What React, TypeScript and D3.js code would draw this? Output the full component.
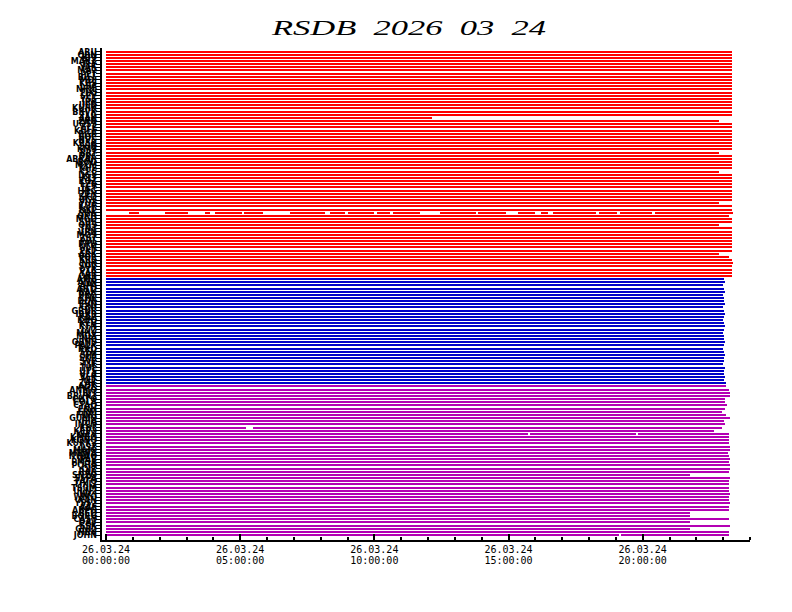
import React from 'react';
import * as d3 from 'd3';

const TITLE = 'RSDB  2026  03  24';

const RED_STATIONS = ['ARU','OBN','KIV','MAKZ','TLY','YAK','MA2','PET','BILL','MDJ','KBS','LSA','NRIL','TIXI','SEY','YSS','IRK','ULN','KURK','BRVK','TLG','AAK','ZRN','UOSS','ELL','KULE','BGR','SOC','NVS','KRSK','SSN','KMS','BRT','DBC','ABKAR','BOD','MXM','KHE','CLC','DGY','KLY','KOZ','LZR','TEY','HRG','ZEY','SKD','UGL','YUZ','KUR','NKL','SHK','OKH','MGD','SUS','ORS','TNT','VRN','MOS','ZST','PUL','PRH','NLK','EKT','ARK','VOR','KRS','NIK','SOV','PTR','YAR','OKT'];
const BLUE_STATIONS = ['AMB','ANN','APA','ARTI','BAK','BRG','CHL','DDR','EVN','GNI','GRNR','IRKR','KAZ','KDO','KEV','KTN','LVZ','MHV','MOX','NRI','OBNS','PALK','RKD','SEV','SIM','SKR','SVE','TIK','TUL','UTS','VLA','VLK','YLT','ZAK'];
const MAGENTA_STATIONS = ['ADK','ANMO','BJT','BRVK2','CHTO','COLA','CTAO','ENH','ERM','FURI','GUMO','HIA','INCN','KBL','KEV2','KIEV','KMBO','KONO','KURK2','LSZ','MAJO','MBWA','NWAO','PAB','PMSA','POHA','QIZ','RAR','SNZO','SSPA','TATO','TIXI2','TSUM','ULN2','WCI','WMQ','XAN','YSS2','AAE','ABPO','BFO','BORG','CASY','DAV','ESK','GNI2','HRV','JOHN'];

// end of recorded data for each station, hours after 00:00
const RED_ENDS = [
  23.33, 23.33, 23.33, 23.33, 23.33, 23.33, 23.33, 23.33, 23.33, 23.33,
  23.33, 23.33, 23.33, 23.33, 23.33, 23.33, 23.33, 23.33, 23.33, 23.33,
  23.33, 12.15, 22.85, 23.33, 23.33, 23.33, 23.33, 23.33, 23.33, 23.33,
  23.33, 23.33, 22.85, 23.33, 23.33, 23.33, 23.33, 23.33, 22.85, 23.33,
  23.33, 23.33, 23.33, 23.33, 23.33, 23.33, 23.33, 23.33, 22.85, 23.33,
  23.33, 23.37, 23.22, 23.33, 23.33, 22.85, 23.33, 23.33, 23.33, 23.33,
  23.33, 23.33, 23.33, 23.33, 22.85, 23.22, 23.33, 23.37, 23.33, 23.33,
  23.33, 23.33,
];
const BLUE_ENDS = [
  23.03, 23.07, 22.99, 23.03, 23.07, 22.99, 23.03, 23.03, 23.07, 22.99,
  23.03, 23.07, 23.03, 22.99, 23.03, 23.07, 23.03, 22.99, 23.03, 23.03,
  23.07, 23.03, 22.99, 23.03, 23.07, 23.03, 23.03, 22.99, 23.07, 23.03,
  23.03, 23.07, 23.03, 23.11,
];
const MAGENTA_ENDS = [
  23.11, 23.22, 23.25, 23.25, 23.07, 23.07, 23.14, 23.07, 22.94, 23.11,
  23.25, 23.03, 23.07, 22.94, 22.66, 23.22, 23.22, 23.22, 23.22, 23.25,
  23.25, 23.18, 23.22, 23.25, 23.22, 23.25, 23.25, 23.22, 21.76, 23.25,
  23.22, 23.22, 23.22, 23.22, 23.25, 23.22, 23.22, 23.25, 23.22, 23.22,
  21.76, 21.76, 23.22, 21.76, 23.25, 21.76, 23.22, 23.22,
];

// data gaps: [station, from hour, to hour]
const GAPS: [string, number, number][] = [
  ['SHK', 0, 0.77], ['SHK', 0.80, 0.86], ['SHK', 1.23, 2.20], ['SHK', 3.06, 3.69],
  ['SHK', 3.88, 4.06], ['SHK', 5.07, 5.14], ['SHK', 5.85, 6.86], ['SHK', 8.16, 8.35],
  ['SHK', 8.91, 9.02], ['SHK', 9.99, 10.10], ['SHK', 10.58, 10.70], ['SHK', 11.70, 12.45],
  ['SHK', 13.79, 13.86], ['SHK', 14.91, 15.36], ['SHK', 15.99, 16.21], ['SHK', 16.47, 16.66],
  ['SHK', 18.26, 18.37], ['SHK', 19.05, 19.16], ['SHK', 20.35, 20.46],
  ['KBL', 5.22, 5.48],
  ['KIEV', 15.72, 15.80], ['KIEV', 19.75, 19.83],
  ['JOHN', 19.12, 19.20],
];

const DATE_LABEL = '26.03.24';
const MAJOR_TICKS = [0, 5, 10, 15, 20];
const MAJOR_LABELS = ['00:00:00', '05:00:00', '10:00:00', '15:00:00', '20:00:00'];
const MINOR_TICKS = [1, 2, 3, 4, 6, 7, 8, 9, 11, 12, 13, 14, 16, 17, 18, 19, 21, 22, 23, 24];

const RED = '#ff0000';
const BLUE = '#0000c8';
const MAGENTA = '#b400b4';

type Row = { name: string; color: string; end: number };

function buildRows(): Row[] {
  const rows: Row[] = [];
  RED_STATIONS.forEach((n, i) => rows.push({ name: n, color: RED, end: RED_ENDS[i] }));
  BLUE_STATIONS.forEach((n, i) => rows.push({ name: n, color: BLUE, end: BLUE_ENDS[i] }));
  MAGENTA_STATIONS.forEach((n, i) => rows.push({ name: n, color: MAGENTA, end: MAGENTA_ENDS[i] }));
  return rows;
}

function segmentsFor(row: Row): [number, number][] {
  const gaps = GAPS.filter((g) => g[0] === row.name).map((g) => [g[1], g[2]] as [number, number]);
  gaps.sort((a, b) => a[0] - b[0]);
  const segs: [number, number][] = [];
  let cur = 0;
  for (const [a, b] of gaps) {
    if (a > cur) segs.push([cur, a]);
    cur = Math.max(cur, b);
  }
  if (row.end > cur) segs.push([cur, row.end]);
  return segs;
}

export default function App() {
  const W = 792, H = 612;
  const rows = buildRows();
  const x = d3.scaleLinear().domain([0, 24]).range([106, 750]);
  const y = d3.scalePoint<string>().domain(rows.map((r) => r.name)).range([51.5, 535]);
  const mono = '"DejaVu Sans Mono", "Liberation Mono", monospace';

  return (
    <svg width={W} height={H} viewBox={`0 0 ${W} ${H}`}
      style={{ position: 'absolute', left: 0, top: 0, background: '#fff' }}>
      <rect x={0} y={0} width={W} height={H} fill="#fff" />
      <text x={272} y={35} textLength={274} lengthAdjust="spacingAndGlyphs"
        xmlSpace="preserve" style={{ whiteSpace: 'pre' }}
        fontFamily='"Liberation Serif", "DejaVu Serif", serif' fontStyle="italic"
        fontSize={21} fill="#000">{TITLE}</text>

      <g shapeRendering="crispEdges">
        {rows.map((r) =>
          segmentsFor(r).map(([a, b], k) => (
            <rect key={r.name + k} x={x(a)} y={(y(r.name) as number) - 1}
              width={Math.max(0.8, x(b) - x(a))} height={2} fill={r.color} />
          ))
        )}
      </g>

      <g shapeRendering="crispEdges">
        {rows.map((r) => (
          <rect key={'t' + r.name} x={96} y={(y(r.name) as number) - 0.5} width={5} height={1} fill="#000" />
        ))}
        <rect x={100} y={48} width={2} height={494} fill="#000" />
        <rect x={100} y={540} width={650} height={2} fill="#000" />
        {MINOR_TICKS.map((h) => (
          <rect key={'m' + h} x={x(h) - 1} y={537} width={2} height={3} fill="#000" />
        ))}
        {MAJOR_TICKS.map((h) => (
          <rect key={'M' + h} x={x(h) - 1} y={534} width={2} height={6} fill="#000" />
        ))}
      </g>

      <g fontFamily='"DejaVu Sans", sans-serif' fontSize={8} fontWeight="bold" fill="#000" textAnchor="end">
        {rows.map((r) => (
          <text key={'l' + r.name} x={97} y={(y(r.name) as number) + 3}>{r.name}</text>
        ))}
      </g>

      <g fontFamily={mono} fontSize={10} fill="#000" textAnchor="middle">
        {MAJOR_TICKS.map((h, i) => (
          <g key={'lab' + h}>
            <text x={x(h)} y={553}>{DATE_LABEL}</text>
            <text x={x(h)} y={564}>{MAJOR_LABELS[i]}</text>
          </g>
        ))}
      </g>
    </svg>
  );
}
